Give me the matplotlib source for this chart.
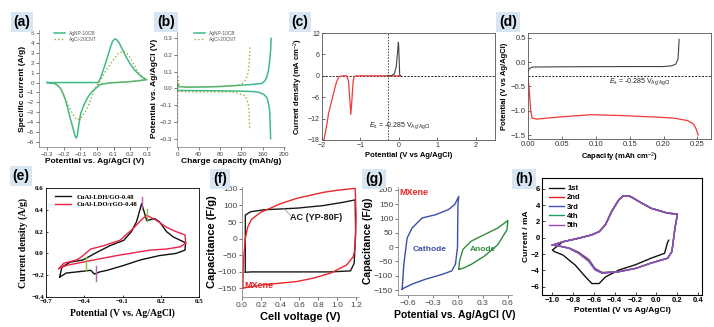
import matplotlib
matplotlib.use('Agg')
import matplotlib.pyplot as plt

plt.rcParams['font.family'] = ['Liberation Sans', 'DejaVu Sans']
plt.rcParams['mathtext.fontset'] = 'custom'
plt.rcParams['mathtext.rm'] = 'Liberation Sans'
plt.rcParams['mathtext.it'] = 'Liberation Sans:italic'
plt.rcParams['mathtext.bf'] = 'Liberation Sans:bold'

# ---------------- data ----------------
# (a) CV of the two silver electrodes
a_agnp_v = [-0.3, -0.1, 0.0, 0.01, 0.023, 0.045, 0.064, 0.08, 0.094, 0.105, 0.112, 0.12, 0.134, 0.155,
            0.175, 0.2, 0.225, 0.265, 0.3, 0.26, 0.22, 0.17, 0.12, 0.07, 0.02, -0.017, -0.04, -0.058,
            -0.08, -0.098, -0.11, -0.118, -0.124, -0.132, -0.14, -0.15, -0.16, -0.175, -0.19, -0.205,
            -0.22, -0.24, -0.26, -0.3]
a_agnp_i = [0, 0, 0, 0.05, 0.55, 1.6, 2.6, 3.5, 4.16, 4.35, 4.4, 4.3, 4.0, 3.3,
            2.6, 1.9, 1.3, 0.62, 0.29, 0.2, 0.12, 0.05, 0, -0.05, -0.2, -0.72, -1.1, -1.56,
            -2.3, -3.1, -4.3, -5.3, -5.6, -5.4, -4.9, -4.3, -3.7, -2.7, -1.75, -1.1,
            -0.6, -0.25, -0.08, 0]
a_agcl_v = [-0.25, -0.22, -0.193, -0.17, -0.153, -0.135, -0.122, -0.105, -0.092, -0.07, -0.05, -0.021,
            0.0, 0.02, 0.05, 0.09, 0.13, 0.16, 0.19, 0.22, 0.25, 0.29, 0.3, 0.2, 0.1, 0.0]
a_agcl_i = [0, -0.6, -1.6, -2.4, -2.95, -3.5, -3.75, -3.7, -3.45, -2.9, -2.27, -0.93,
            -0.25, 0.2, 1.1, 2.1, 2.95, 3.15, 2.8, 1.9, 1.0, 0.35, 0.3, 0.1, 0.02, -0.2]

# (b) charge / discharge
b_agnp_ch_q = [0, 0, 2, 17, 50, 80, 110, 130, 145, 158, 164, 168, 171, 173, 175, 176]
b_agnp_ch_v = [-0.01, 0.03, 0.012, 0.008, 0.009, 0.012, 0.018, 0.022, 0.026, 0.03, 0.045, 0.07, 0.11, 0.16, 0.23, 0.3]
b_agnp_dis_q = [0, 2, 49, 111, 140, 152, 162, 168, 171, 173, 174, 175]
b_agnp_dis_v = [-0.01, -0.012, -0.013, -0.015, -0.018, -0.022, -0.035, -0.055, -0.09, -0.13, -0.2, -0.3]
b_agcl_ch_q = [0, 0, 3, 24, 80, 108, 115, 122, 127, 131, 133, 135, 136]
b_agcl_ch_v = [-0.2, 0.08, 0.012, 0.008, 0.012, 0.016, 0.02, 0.032, 0.048, 0.075, 0.1, 0.16, 0.25]
b_agcl_dis_q = [0, 3, 50, 98, 108, 120, 127, 131, 134, 135, 136]
b_agcl_dis_v = [-0.015, -0.018, -0.02, -0.021, -0.023, -0.035, -0.045, -0.07, -0.11, -0.19, -0.25]

# (c) LSV of the two half reactions
c_red_v = [-1.95, -1.88, -1.83, -1.76, -1.7, -1.62, -1.55, -1.45, -1.36, -1.31, -1.28, -1.25, -1.22, -1.19, -1.16, -1.1, -0.3, 0.05]
c_red_i = [-18, -14, -10.6, -7.5, -4.9, -1.6, -0.2, 0, 0, -1.5, -6, -10.8, -6.5, -1.5, -0.2, 0, 0, 0]
c_blk_v = [-0.3, -0.2, -0.12, -0.07, -0.04, -0.015, -0.005, 0.02, 0.03, 0.05]
c_blk_i = [0, 0, 0.5, 2.5, 6.0, 9.4, 8.5, 0.5, 0, 0]
c_es = -0.285

# (d) galvanostatic curves
d_blk_q = [0, 0.002, 0.007, 0.05, 0.1, 0.15, 0.2, 0.212, 0.218, 0.221, 0.222, 0.223]
d_blk_v = [-0.2, -0.13, -0.1, -0.095, -0.092, -0.09, -0.09, -0.075, -0.04, 0.05, 0.2, 0.47]
d_red_q = [0, 0.002, 0.004, 0.006, 0.013, 0.044, 0.093, 0.142, 0.19, 0.215, 0.235, 0.244, 0.248, 0.251]
d_red_v = [-0.3, -0.6, -1.0, -1.15, -1.17, -1.13, -1.08, -1.1, -1.13, -1.15, -1.2, -1.27, -1.37, -1.5]

# (e) CV of the two composites
e_ldh_v = [-0.593, -0.575, -0.51, -0.41, -0.3, -0.2, -0.09, -0.03, 0.01, 0.05, 0.065, 0.09, 0.15, 0.19,
           0.245, 0.3, 0.39, 0.395, 0.39, 0.32, 0.19, 0.04, -0.09, -0.22, -0.28, -0.32, -0.35,
           -0.46, -0.54, -0.593]
e_ldh_i = [-0.217, -0.125, -0.08, -0.06, 0.01, 0.07, 0.12, 0.2, 0.29, 0.456, 0.4, 0.3, 0.32, 0.29,
           0.2, 0.15, 0.1, 0.1, 0.03, 0.0, -0.02, -0.06, -0.11, -0.155, -0.17, -0.19, -0.155,
           -0.17, -0.18, -0.217]
e_ldo_v = [-0.6, -0.56, -0.46, -0.42, -0.35, -0.25, -0.12, -0.015, 0.05, 0.09, 0.17, 0.245, 0.32,
           0.39, 0.396, 0.35, 0.245, 0.115, -0.015, -0.145, -0.28, -0.41, -0.54, -0.6]
e_ldo_i = [-0.14, -0.09, -0.06, -0.03, 0.04, 0.07, 0.12, 0.23, 0.31, 0.35, 0.30, 0.24, 0.2,
           0.17, 0.09, 0.06, 0.04, 0.03, 0.005, -0.02, -0.05, -0.08, -0.11, -0.14]
e_mark_purple = [(0.05, 0.41, 0.52), (-0.31, -0.25, -0.12)]
e_mark_green = [(0.09, 0.30, 0.41), (-0.385, -0.155, -0.03)]

# (f) two-electrode CVs
f_ac_v = [0.035, 0.035, 0.09, 0.23, 0.58, 0.86, 1.07, 1.19, 1.195, 1.18, 1.14, 0.93, 0.5, 0.1, 0.035]
f_ac_c = [-102, 71, 81, 87, 92, 100, 110, 117, 20, -75, -98, -101, -101, -101, -102]
f_mx_v = [0.01, 0.012, 0.02, 0.035, 0.06, 0.1, 0.2, 0.3, 0.4, 0.58, 0.86, 1.0, 1.19, 1.2, 1.19, 1.17,
          1.1, 0.93, 0.75, 0.58, 0.23, 0.01]
f_mx_c = [-150, -100, -50, 0, 35, 58, 80, 92, 105, 122, 140, 146, 152, 71, -29, -55,
          -80, -105, -120, -130, -140, -150]

# (g) three-electrode CVs of MXene
g_cat_v = [-0.67, -0.65, -0.61, -0.55, -0.43, -0.27, -0.115, -0.04, 0.01, 0.0, -0.005, -0.03, -0.075,
           -0.19, -0.39, -0.55, -0.65, -0.67]
g_cat_c = [-147, -60, 32, 67, 102, 113, 131, 148, 177, 148, -2, -60, -83,
           -95, -112, -129, -143, -147]
g_an_v = [0.01, 0.02, 0.06, 0.16, 0.32, 0.48, 0.6, 0.59, 0.48, 0.32, 0.16, 0.06, 0.01]
g_an_c = [-77, -48, -8, 21, 44, 67, 93, 61, 9, -31, -60, -74, -77]

# (h) first five cycles
h_cyc_v = [-1.0, -0.9, -0.75, -0.62, -0.55, -0.49, -0.43, -0.36, -0.32, -0.25, -0.17, -0.05, 0.11, 0.2,
           0.2, 0.18, 0.15, 0.11, -0.05, -0.2, -0.36, -0.52, -0.59, -0.65, -0.75, -0.84, -0.94, -1.0]
h_cyc_i = [-0.9, -0.5, -0.07, 0.35, 0.75, 1.57, 3.2, 4.65, 5.1, 5.05, 4.45, 3.6, 3.0, 2.9,
           2.6, 1.2, -1.7, -2.5, -3.1, -3.75, -4.15, -4.35, -3.95, -2.9, -1.9, -1.3, -1.0, -0.9]
h_red_shift = [0, 0, 0, 0, 0, 0, 0, 0, 0, 0, 0, 0, 0, 0, 0, 0, 0, 0, 0, 0, 0, 0.1, 0.2, 0.25, 0.15, 0.05, 0, 0]
h_first_v = [0.12, 0.11, 0.08, -0.05, -0.2, -0.36, -0.49, -0.55, -0.62, -0.68, -0.78, -0.9, -0.98, -1.0,
             -0.9, -0.75, -0.62, -0.55, -0.49, -0.43, -0.36, -0.32, -0.25, -0.17, -0.05, 0.11, 0.2]
h_first_i = [-0.3, -0.5, -1.9, -2.5, -3.3, -3.95, -4.8, -5.6, -5.6, -4.8, -3.35, -2.1, -1.7, -1.5,
             -0.5, -0.07, 0.35, 0.75, 1.57, 3.2, 4.65, 5.1, 5.05, 4.45, 3.6, 3.0, 2.9]
h_labels = ['1st', '2nd', '3rd', '4th', '5th']
h_colors = ['#111111', '#e8202a', '#3e4fc4', '#1aa060', '#9b45c2']

# ---------------- figure ----------------
W, H = 714, 327
fig = plt.figure(figsize=(W / 100, H / 100), dpi=100)


def make_ax(l, t, r, b):
    return fig.add_axes([l / W, 1 - b / H, (r - l) / W, (b - t) / H])


def tag(x, y, s):
    fig.text(x / W, 1 - y / H, s, fontsize=10, fontweight='bold', ha='center', va='center',
             bbox=dict(boxstyle='square,pad=0.2', fc='#d8e6f3', ec='none'))


def open_axes(ax):
    ax.spines['top'].set_visible(False)
    ax.spines['right'].set_visible(False)


# (a)
ax = make_ax(39, 30, 150, 147)
open_axes(ax)
ax.plot(a_agnp_v, a_agnp_i, color='#3dbb84', lw=1.1, label='AgNP-10CB')
ax.plot(a_agcl_v, a_agcl_i, color='#9aa642', lw=1.0, ls=':', label='AgCl-20CNT')
ax.set_xlim(-0.35, 0.32)
ax.set_ylim(-6.5, 5.3)
ax.set_xticks([-0.3, -0.2, -0.1, 0.0, 0.1, 0.2, 0.3])
ax.set_yticks(range(-6, 6))
ax.tick_params(labelsize=4.5, length=2, width=0.5, colors='#444444', pad=1.5)
for s in ax.spines.values():
    s.set_linewidth(0.5)
    s.set_color('#777777')
ax.set_xlabel('Potential vs. Ag/AgCl (V)', fontsize=6, fontweight='bold', labelpad=1)
ax.set_ylabel('Specific current (A/g)', fontsize=6, fontweight='bold', labelpad=1)
ax.legend(loc='upper left', bbox_to_anchor=(0.1, 1.03), frameon=False, fontsize=3.5,
          handlelength=2.2, labelspacing=0.2, labelcolor='#555555')
tag(22, 22, '(a)')

# (b)
ax = make_ax(177, 30, 285, 147)
open_axes(ax)
ax.plot(b_agnp_ch_q, b_agnp_ch_v, color='#3dbb84', lw=1.1, label='AgNP-10CB')
ax.plot(b_agnp_dis_q, b_agnp_dis_v, color='#3dbb84', lw=1.1)
ax.plot(b_agcl_ch_q, b_agcl_ch_v, color='#9aa642', lw=1.0, ls=':', label='AgCl-20CNT')
ax.plot(b_agcl_dis_q, b_agcl_dis_v, color='#9aa642', lw=1.0, ls=':')
ax.set_xlim(-1, 202)
ax.set_ylim(-0.35, 0.35)
ax.set_xticks([0, 40, 80, 120, 160, 200])
ax.set_yticks([-0.3, -0.2, -0.1, 0.0, 0.1, 0.2, 0.3])
ax.tick_params(labelsize=4.5, length=2, width=0.5, colors='#444444', pad=1.5)
for s in ax.spines.values():
    s.set_linewidth(0.5)
    s.set_color('#777777')
ax.set_xlabel('Charge capacity (mAh/g)', fontsize=6, fontweight='bold', labelpad=1)
ax.set_ylabel('Potential vs. Ag/AgCl (V)', fontsize=6, fontweight='bold', labelpad=1)
ax.legend(loc='upper left', bbox_to_anchor=(0.12, 1.03), frameon=False, fontsize=3.5,
          handlelength=2.2, labelspacing=0.2, labelcolor='#555555')
tag(166, 22, '(b)')

# (c)
ax = make_ax(322, 33, 495, 140)
ax.axhline(0, color='#222222', lw=0.7, ls=(0, (2, 1.5)))
ax.axvline(c_es, color='#444444', lw=0.7, ls=(0, (1.5, 1.5)))
ax.plot(c_red_v, c_red_i, color='#f03a3a', lw=0.9)
ax.plot(c_blk_v, c_blk_i, color='#444444', lw=0.8)
ax.set_xlim(-2.0, 2.5)
ax.set_ylim(-18, 12)
ax.set_xticks([-2.0, -1.0, 0.0, 1.0, 2.0])
ax.set_yticks([-18, -12, -6, 0, 6, 12])
ax.tick_params(labelsize=5, length=2, width=0.5, direction='in', colors='#333333', pad=1.5)
for s in ax.spines.values():
    s.set_linewidth(0.6)
    s.set_color('#555555')
ax.set_xlabel('Potential (V vs Ag/AgCl)', fontsize=5.5, fontweight='bold', labelpad=2)
ax.set_ylabel('Current density (mA cm$^{-2}$)', fontsize=5.5, fontweight='bold', labelpad=2)
ax.text(-0.78, -14.2, r'$E_\mathrm{s}$ = -0.285 V$_\mathrm{Ag/AgCl}$', fontsize=5, color='#222222')
tag(300, 22, '(c)')

# (d)
ax = make_ax(528, 33, 711, 139)
ax.axhline(c_es, color='#222222', lw=0.7, ls=(0, (2, 1.5)))
ax.plot(d_blk_q, d_blk_v, color='#444444', lw=0.8)
ax.plot(d_red_q, d_red_v, color='#f03a3a', lw=0.9)
ax.set_xlim(0, 0.27)
ax.set_ylim(-1.58, 0.6)
ax.set_xticks([0, 0.05, 0.1, 0.15, 0.2, 0.25])
ax.set_xticklabels(['0.00', '0.05', '0.10', '0.15', '0.20', '0.25'])
ax.set_yticks([-1.5, -1.0, -0.5, 0.0, 0.5])
ax.tick_params(labelsize=5.5, length=2, width=0.5, direction='in', colors='#333333', pad=1.5)
for s in ax.spines.values():
    s.set_linewidth(0.6)
    s.set_color('#555555')
ax.set_xlabel('Capacity (mAh cm$^{-2}$)', fontsize=5.5, fontweight='bold', labelpad=2)
ax.set_ylabel('Potential (V vs Ag/AgCl)', fontsize=5.5, fontweight='bold', labelpad=2)
ax.text(0.12, -0.42, r'$E_\mathrm{s}$ = -0.285 V$_\mathrm{Ag/AgCl}$', fontsize=5, color='#222222')
tag(508, 22, '(d)')

# (e)
serif = ['Liberation Serif', 'DejaVu Serif']
ax = make_ax(46, 188, 199, 297)
ax.plot(e_ldh_v, e_ldh_i, color='#111111', lw=1.0, label='CuAl-LDH/GO-0.48')
ax.plot(e_ldo_v, e_ldo_i, color='#ee2244', lw=1.0, label='CuAl-LDO/rGO-0.48')
for x, y0, y1 in e_mark_purple:
    ax.plot([x, x], [y0, y1], color='#b55db5', lw=1.0)
for x, y0, y1 in e_mark_green:
    ax.plot([x, x], [y0, y1], color='#88c540', lw=1.0)
ax.set_xlim(-0.7, 0.5)
ax.set_ylim(-0.4, 0.6)
ax.set_xticks([-0.7, -0.4, -0.1, 0.2, 0.5])
ax.set_yticks([-0.4, -0.2, 0.0, 0.2, 0.4, 0.6])
ax.tick_params(labelsize=5, length=1.5, width=0.5, direction='in', pad=1.5)
for lab in ax.get_xticklabels() + ax.get_yticklabels():
    lab.set_family(serif)
    lab.set_fontweight('bold')
for s in ax.spines.values():
    s.set_linewidth(0.6)
ax.set_xlabel('Potential (V vs. Ag/AgCl)', fontsize=7, fontweight='bold', family=serif, labelpad=3)
ax.set_ylabel('Current density (A/g)', fontsize=7, fontweight='bold', family=serif, labelpad=2)
ax.legend(loc='upper left', bbox_to_anchor=(0.02, 1.0), frameon=False,
          prop=dict(family=serif, weight='bold', size=4.8), handlelength=2.4, labelspacing=0.25)
tag(21, 176, '(e)')

# (f)
ax = make_ax(242, 187, 358, 297)
open_axes(ax)
ax.plot(f_ac_v, f_ac_c, color='#1a1a1a', lw=1.0)
ax.plot(f_mx_v, f_mx_c, color='#e8262c', lw=1.0)
ax.plot([0.44, 0.51], [91, 70], color='#888888', lw=0.5)
ax.text(0.51, 64, 'AC (YP-80F)', fontsize=6.5, fontweight='bold', va='center', color='#1a1a1a')
ax.text(0.03, -141, 'MXene', fontsize=6.5, fontweight='bold', va='center', color='#e8262c')
ax.set_xlim(0, 1.22)
ax.set_ylim(-177, 156)
ax.set_xticks([0.0, 0.2, 0.4, 0.6, 0.8, 1.0, 1.2])
ax.set_yticks([-150, -100, -50, 0, 50, 100, 150])
ax.tick_params(labelsize=6, length=2, width=0.5, colors='#444444', pad=1.5)
for s in ax.spines.values():
    s.set_linewidth(0.6)
    s.set_color('#888888')
ax.set_xlabel('Cell voltage (V)', fontsize=8, fontweight='bold', labelpad=2)
ax.set_ylabel('Capacitance (F/g)', fontsize=8, fontweight='bold', labelpad=1)
tag(220, 179, '(f)')

# (g)
ax = make_ax(398, 187, 512, 295)
open_axes(ax)
ax.plot(g_cat_v, g_cat_c, color='#3b4fa8', lw=1.0)
ax.plot(g_an_v, g_an_c, color='#2e8b3e', lw=1.0)
ax.text(-0.70, 190, 'MXene', fontsize=6.5, fontweight='bold', va='center', color='#e8262c')
ax.text(-0.34, -8, 'Cathode', fontsize=6, fontweight='bold', ha='center', va='center', color='#3b4fa8')
ax.text(0.3, -8, 'Anode', fontsize=6, fontweight='bold', ha='center', va='center', color='#2e8b3e')
ax.set_xlim(-0.72, 0.65)
ax.set_ylim(-167, 210)
ax.set_xticks([-0.6, -0.3, 0.0, 0.3, 0.6])
ax.set_yticks([-150, -100, -50, 0, 50, 100, 150, 200])
ax.tick_params(labelsize=6, length=2, width=0.5, colors='#444444', pad=1.5)
for s in ax.spines.values():
    s.set_linewidth(0.6)
    s.set_color('#888888')
ax.set_xlabel('Potential vs. Ag/AgCl (V)', fontsize=7.5, fontweight='bold', labelpad=2)
ax.set_ylabel('Capacitance (F/g)', fontsize=7.5, fontweight='bold', labelpad=1)
tag(374, 179, '(g)')

# (h)
ax = make_ax(542, 178, 702, 295)
ax.plot(h_first_v, h_first_i, color=h_colors[0], lw=1.0, label=h_labels[0])
for k in range(1, 5):
    shift = [d * (4 - k) / 3 for d in h_red_shift]
    ax.plot(h_cyc_v, [i + s for i, s in zip(h_cyc_i, shift)], color=h_colors[k], lw=1.0, label=h_labels[k])
ax.set_xlim(-1.1, 0.44)
ax.set_ylim(-7, 7.3)
ax.set_xticks([-1.0, -0.8, -0.6, -0.4, -0.2, 0.0, 0.2, 0.4])
ax.set_yticks([-6, -4, -2, 0, 2, 4, 6])
ax.tick_params(labelsize=5.5, length=2, width=0.5, direction='in', pad=1.5)
for lab in ax.get_xticklabels() + ax.get_yticklabels():
    lab.set_fontweight('bold')
for s in ax.spines.values():
    s.set_linewidth(0.8)
ax.set_xlabel('Potential (V vs Ag/AgCl)', fontsize=6, fontweight='bold', labelpad=2)
ax.set_ylabel('Current / mA', fontsize=6, fontweight='bold', labelpad=1)
ax.legend(loc='upper left', bbox_to_anchor=(0.0, 1.0), frameon=False,
          prop=dict(weight='bold', size=5.5), handlelength=2.0, labelspacing=0.25, handletextpad=0.4)
tag(524, 179, '(h)')

fig.savefig('out.png', dpi=100)
